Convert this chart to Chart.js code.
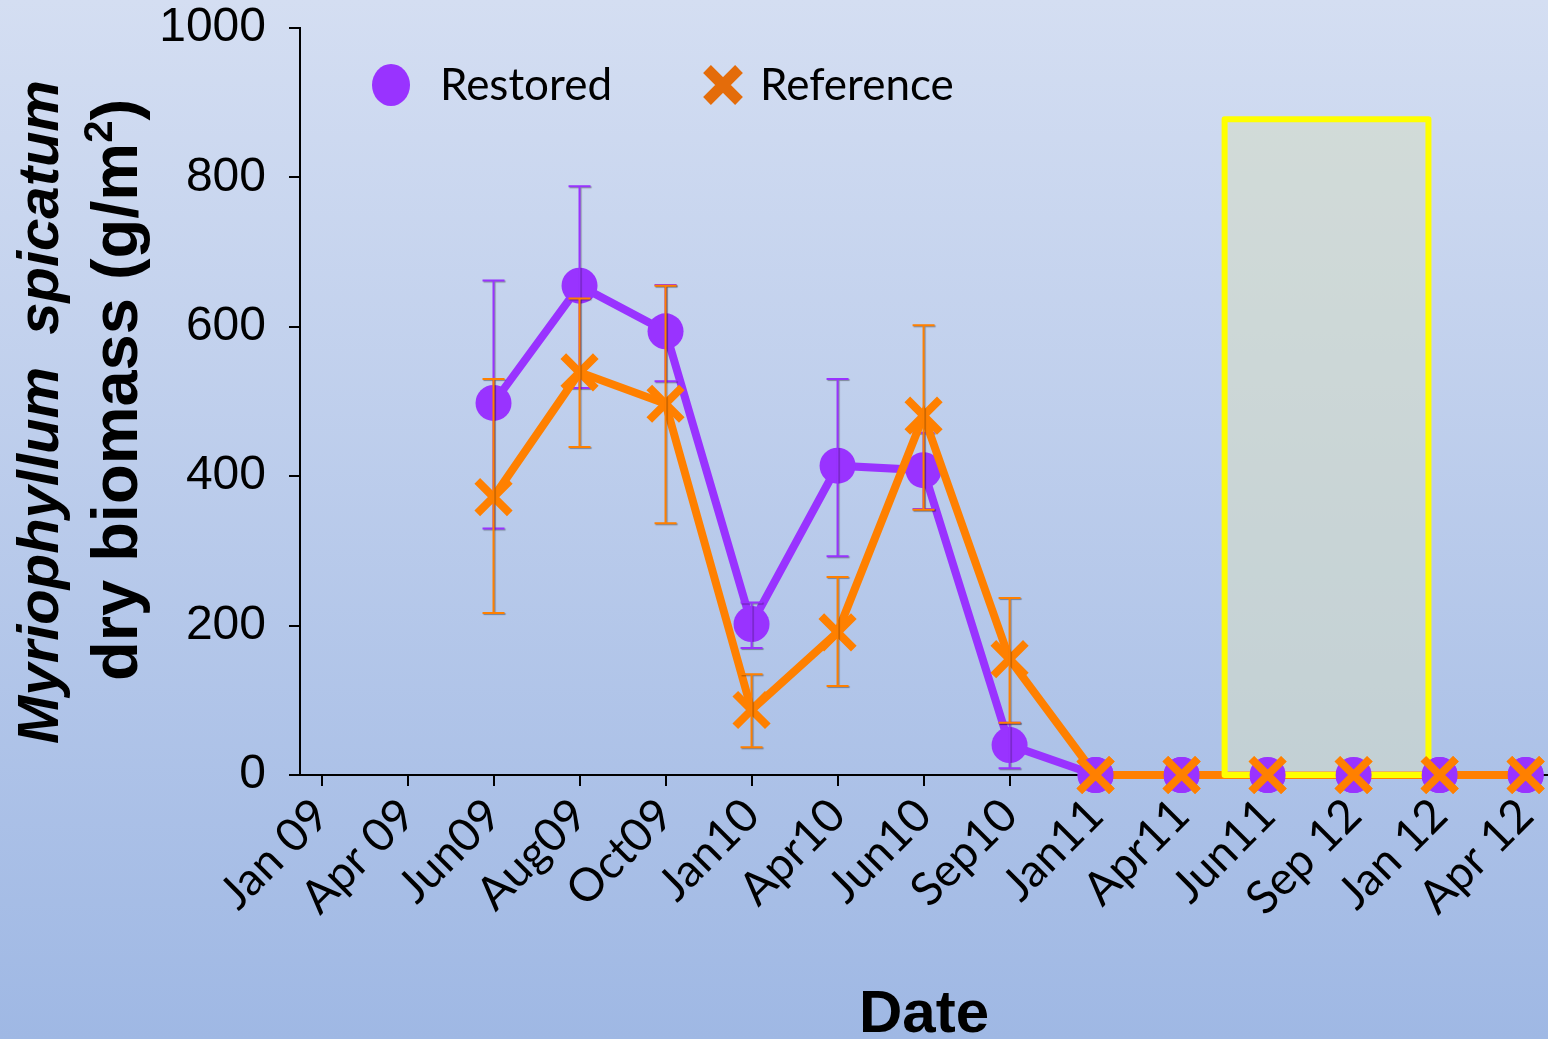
<!DOCTYPE html>
<html><head><meta charset="utf-8">
<script src="https://cdn.jsdelivr.net/npm/chart.js@4.4.0/dist/chart.umd.min.js"></script>
<style>
html,body{margin:0;padding:0;}
body{width:1548px;height:1039px;background:linear-gradient(to bottom,#d4def2 0%,#9fb8e4 100%);overflow:hidden;}
#wrap{position:relative;width:1800px;height:1300px;}
canvas{display:block;}
</style></head><body>
<div id="wrap"><canvas id="c" width="1548" height="1039"></canvas></div>
<script>
const categories = ['Jan 09','Apr 09','Jun09','Aug09','Oct09','Jan10','Apr10','Jun10','Sep10','Jan11','Apr11','Jun11','Sep 12','Jan 12','Apr 12'];
const restored     = [null,null,498,655,594,202,414,408,40,0,0,0,0,0,0];
const restoredHigh = [null,null,662,788,656,231,530,458,70,null,null,null,null,null,null];
const restoredLow  = [null,null,330,518,527,170,293,356,9,null,null,null,null,null,null];
const reference     = [null,null,372,539,497,87,191,481,155,0,0,0,0,0,0];
const referenceHigh = [null,null,530,638,655,135,265,602,237,null,null,null,null,null,null];
const referenceLow  = [null,null,217,439,337,37,119,355,70,null,null,null,null,null,null];
const yTicks = [0,200,400,600,800,1000];
// highlighted period (category index range, biomass value range)
const boxRange = {x0:10.5, x1:12.87, y0:0, y1:878};

const PURPLE = '#9933ff', ORANGE = '#ff8000', ORANGE_DARK = '#e46c0a';
const TARGET = {left:300, top:28, right:1548, bottom:775};

const toPts = arr => arr.map((v,i)=>({x:i,y:v}));

const errorBars = {
  id:'errorBars',
  afterDatasetDraw(chart, args){
    const ds = chart.data.datasets[args.index];
    if(!ds.errHigh) return;
    const ctx = chart.ctx, xs = chart.scales.x, ys = chart.scales.y;
    ctx.save();
    ctx.strokeStyle = ds.borderColor;
    ctx.lineWidth = 2;
    ctx.shadowColor = 'rgba(0,0,0,0.35)';
    ctx.shadowOffsetX = 1; ctx.shadowOffsetY = 1; ctx.shadowBlur = 1;
    ds.errHigh.forEach((hi,i)=>{
      const lo = ds.errLow[i];
      if(hi==null || lo==null) return;
      const px = xs.getPixelForValue(i);
      const pHi = ys.getPixelForValue(hi), pLo = ys.getPixelForValue(lo);
      ctx.beginPath();
      ctx.moveTo(px,pHi); ctx.lineTo(px,pLo);
      ctx.moveTo(px-11,pHi); ctx.lineTo(px+11,pHi);
      ctx.moveTo(px-11,pLo); ctx.lineTo(px+11,pLo);
      ctx.stroke();
    });
    ctx.restore();
  }
};

const boxPlugin = {
  id:'boxPlugin',
  afterDatasetsDraw(chart){
    const ctx = chart.ctx, xs = chart.scales.x, ys = chart.scales.y;
    const l = xs.getPixelForValue(boxRange.x0), r = xs.getPixelForValue(boxRange.x1);
    const t = ys.getPixelForValue(boxRange.y1), b = ys.getPixelForValue(boxRange.y0);
    ctx.save();
    ctx.fillStyle = 'rgba(214,220,196,0.55)';
    ctx.fillRect(l,t,r-l,b-t);
    ctx.strokeStyle = '#ffff00';
    ctx.lineWidth = 6;
    ctx.lineJoin = 'round';
    ctx.strokeRect(l,t,r-l,b-t);
    ctx.restore();
    // markers on the zero line stay on top of the box
    const metas = chart.getSortedVisibleDatasetMetas().slice().reverse();
    metas.forEach(meta=>{
      const ds = chart.data.datasets[meta.index];
      meta.data.forEach((pt,i)=>{
        if(ds.data[i].y === 0){ pt.skip = false; pt.draw(ctx); }
      });
    });
  }
};

const titleLegend = {
  id:'titleLegend',
  afterDraw(chart){
    const ctx = chart.ctx;
    const oy = chart.$shiftY || 0;
    ctx.save();
    ctx.translate(0, oy);
    ctx.fillStyle = '#000';
    ctx.textBaseline = 'alphabetic';
    // y title line 1
    ctx.save();
    ctx.translate(58, 412);
    ctx.rotate(-Math.PI/2);
    ctx.font = 'italic bold 58px "Liberation Sans"';
    const t1 = 'Myriophyllum  spicatum';
    const w1 = ctx.measureText(t1).width;
    ctx.fillText(t1, -w1/2, 0);
    ctx.restore();
    // y title line 2
    ctx.save();
    ctx.translate(137, 390);
    ctx.rotate(-Math.PI/2);
    const a = 'dry biomass (g/m', sup = '2', c = ')';
    ctx.font = 'bold 65px "Liberation Sans"';
    const wa = ctx.measureText(a).width, wc = ctx.measureText(c).width;
    ctx.font = 'bold 40px "Liberation Sans"';
    const ws = ctx.measureText(sup).width;
    const tot = wa+ws+wc;
    let x = -tot/2;
    ctx.font = 'bold 65px "Liberation Sans"';
    ctx.fillText(a, x, 0); x += wa;
    ctx.font = 'bold 40px "Liberation Sans"';
    ctx.fillText(sup, x, -25); x += ws;
    ctx.font = 'bold 65px "Liberation Sans"';
    ctx.fillText(c, x, 0);
    ctx.restore();
    // legend
    const ds = chart.data.datasets;
    ctx.font = '44px Lato';
    ctx.textBaseline = 'middle';
    ctx.fillStyle = PURPLE;
    ctx.beginPath(); ctx.ellipse(391, 85, 19, 21, 0, 0, Math.PI*2); ctx.fill();
    ctx.fillStyle = '#000';
    ctx.fillText(ds[0].label, 440, 86);
    ctx.strokeStyle = ORANGE_DARK; ctx.lineWidth = 11; ctx.lineCap = 'butt';
    const cx = 723, cy = 85, h = 16;
    ctx.beginPath();
    ctx.moveTo(cx-h,cy-h); ctx.lineTo(cx+h,cy+h);
    ctx.moveTo(cx+h,cy-h); ctx.lineTo(cx-h,cy+h);
    ctx.stroke();
    ctx.fillStyle = '#000';
    ctx.fillText(ds[1].label, 760, 86);
    ctx.restore();
  }
};

function makeConfig(){
  return {
  type:'line',
  data:{
    datasets:[
      {label:'Restored', data:toPts(restored), errHigh:restoredHigh, errLow:restoredLow,
       borderColor:PURPLE, backgroundColor:PURPLE, borderWidth:8, pointStyle:'circle',
       pointRadius:18, pointBorderWidth:0, pointBackgroundColor:PURPLE, order:1, tension:0, clip:false},
      {label:'Reference', data:toPts(reference), errHigh:referenceHigh, errLow:referenceLow,
       borderColor:ORANGE, backgroundColor:ORANGE, borderWidth:8, pointStyle:'crossRot',
       pointRadius:23, pointBorderWidth:8, pointBorderColor:ORANGE, order:0, tension:0, clip:false}
    ]
  },
  options:{
    responsive:false, maintainAspectRatio:false, animation:false, devicePixelRatio:1,
    layout:{padding:{top:28,left:0,right:0,bottom:0}},
    plugins:{legend:{display:false}, tooltip:{enabled:false}},
    scales:{
      x:{type:'linear', min:-0.25, max:14.26,
         afterBuildTicks:s=>{s.ticks = categories.map((_,i)=>({value:i}));},
         ticks:{callback:(v,i)=>categories[i], maxRotation:45, minRotation:45, autoSkip:false,
                font:{family:'Lato', size:46}, color:'#000', padding:2},
         grid:{drawOnChartArea:false, drawTicks:true, tickLength:11, color:'#000', lineWidth:2},
         border:{color:'#000', width:2},
         title:{display:true, text:'Date', color:'#000', font:{family:'Liberation Sans', size:60, weight:'bold', lineHeight:0.8}, padding:{top:0,bottom:0}},
         afterFit:s=>{s.height=264; s.paddingLeft=0; s.paddingRight=0;}
      },
      y:{min:0, max:1000,
         afterBuildTicks:s=>{s.ticks = yTicks.map(v=>({value:v}));},
         ticks:{callback:v=>String(v), font:{family:'Liberation Sans', size:48}, color:'#000', padding:23},
         grid:{drawOnChartArea:false, drawTicks:true, tickLength:11, color:'#000', lineWidth:2},
         border:{color:'#000', width:2},
         afterFit:s=>{s.width=300; s.paddingTop=0; s.paddingBottom=0;}
      }
    }
  },
  plugins:[errorBars, boxPlugin, titleLegend]
  };
}

const canvas = document.getElementById('c');
let W = 1548, H = 1039, shiftY = 0;
let chart = new Chart(canvas, makeConfig());
for(let k=0;k<4;k++){
  const ca = chart.chartArea;
  const dTop = (ca.top - shiftY) - TARGET.top;
  const dRight = TARGET.right - ca.right;
  if(Math.abs(dTop)<0.5 && Math.abs(dRight)<0.5) break;
  shiftY += dTop; H += dTop; W += dRight;
  chart.destroy();
  canvas.width = Math.round(W); canvas.height = Math.round(H);
  canvas.style.width = Math.round(W)+'px'; canvas.style.height = Math.round(H)+'px';
  canvas.style.marginTop = (-Math.round(shiftY))+'px';
  chart = new Chart(canvas, makeConfig());
  chart.$shiftY = Math.round(shiftY);
  chart.draw();
}
</script>
</body></html>
